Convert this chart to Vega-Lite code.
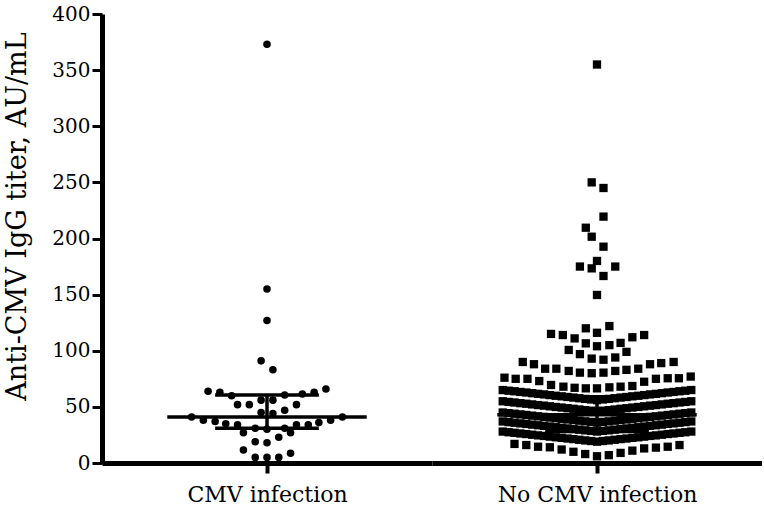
{
  "$schema": "https://vega.github.io/schema/vega-lite/v6.json",
  "background": "white",
  "padding": {"left": 2, "top": 4, "right": 0, "bottom": 0},
  "spacing": 0,
  "config": {
    "view": {"stroke": null},
    "font": "DejaVu Serif",
    "axis": {"grid": false, "domainWidth": 5, "domainColor": "black", "tickColor": "black", "labelFont": "DejaVu Serif", "labelColor": "black", "titleFont": "DejaVu Serif", "titleFontWeight": "normal", "titleColor": "black"},
    "axisX": {"tickWidth": 4, "tickSize": 10, "labels": false, "titleFontSize": 22, "titleBaseline": "middle", "titleY": 31},
    "axisY": {"tickWidth": 3, "tickSize": 10, "labelFontSize": 20, "labelPadding": 2, "titleFontSize": 27, "titleX": -85, "titleY": 202, "titleBaseline": "middle"}
  },
  "datasets": {
    "summary": [
      {"group": "CMV infection", "median": 41, "q1": 31, "q3": 60.5},
      {"group": "No CMV infection", "median": 43, "q1": 28, "q3": 59}
    ],
    "cmv": [
      {"slot": 0, "value": 373}, {"slot": 0, "value": 155}, {"slot": 0, "value": 127},
      {"slot": -0.5, "value": 91}, {"slot": 0.5, "value": 83},
      {"slot": -5, "value": 64}, {"slot": -4, "value": 63}, {"slot": -3, "value": 60}, {"slot": 1.5, "value": 60.5}, {"slot": 3, "value": 61.5}, {"slot": 4, "value": 63}, {"slot": 5, "value": 66},
      {"slot": -2.5, "value": 52}, {"slot": -1.5, "value": 52}, {"slot": -0.5, "value": 56}, {"slot": 0.5, "value": 56}, {"slot": 2.5, "value": 52},
      {"slot": -0.5, "value": 45}, {"slot": 0.5, "value": 44}, {"slot": 1.5, "value": 47},
      {"slot": -6.4, "value": 41}, {"slot": -5.4, "value": 38}, {"slot": -4.4, "value": 37}, {"slot": -3.5, "value": 35}, {"slot": -2.5, "value": 34}, {"slot": -1, "value": 31}, {"slot": 0, "value": 30}, {"slot": 1.5, "value": 31}, {"slot": 2.5, "value": 34}, {"slot": 3.5, "value": 34}, {"slot": 4.4, "value": 36}, {"slot": 5.4, "value": 38}, {"slot": 6.4, "value": 41},
      {"slot": -2, "value": 27}, {"slot": 2, "value": 27},
      {"slot": -1, "value": 19}, {"slot": 0, "value": 18}, {"slot": 1, "value": 23},
      {"slot": -2, "value": 11.6}, {"slot": 2, "value": 8.6},
      {"slot": -1, "value": 5}, {"slot": 0, "value": 5}, {"slot": 1, "value": 5}
    ],
    "nocmv": [
      {"slot": 0, "value": 355}, {"slot": -0.45, "value": 250}, {"slot": 0.55, "value": 245}, {"slot": 0.55, "value": 219.5}, {"slot": -0.95, "value": 209.6}, {"slot": -0.45, "value": 201.6}, {"slot": 0.55, "value": 192.7}, {"slot": 0, "value": 180}, {"slot": -1.45, "value": 175}, {"slot": -0.45, "value": 173.4}, {"slot": 1.55, "value": 175}, {"slot": 0.55, "value": 166.6}, {"slot": 0, "value": 149.7},
      {"slot": 1.05, "value": 122}, {"slot": -0.95, "value": 120}, {"slot": 0, "value": 116}, {"slot": -3.9, "value": 115}, {"slot": -2.9, "value": 114}, {"slot": -1.9, "value": 111}, {"slot": 3, "value": 112}, {"slot": 4, "value": 114}, {"slot": -0.95, "value": 106.6}, {"slot": 0, "value": 104}, {"slot": 1.05, "value": 105}, {"slot": 2, "value": 107}, {"slot": -2.4, "value": 100.7}, {"slot": 2.5, "value": 99}, {"slot": -1.45, "value": 97}, {"slot": -0.45, "value": 93}, {"slot": 0.55, "value": 92}, {"slot": 1.55, "value": 94},
      {"slot": -6.3, "value": 90}, {"slot": -5.35, "value": 88}, {"slot": -4.4, "value": 84}, {"slot": -3.45, "value": 84}, {"slot": -2.4, "value": 82}, {"slot": -1.45, "value": 80.5}, {"slot": -0.45, "value": 80}, {"slot": 0.55, "value": 80.5}, {"slot": 1.55, "value": 82}, {"slot": 2.5, "value": 83}, {"slot": 3.5, "value": 84}, {"slot": 4.5, "value": 88}, {"slot": 5.45, "value": 89}, {"slot": 6.5, "value": 90},
      {"slot": -7.85, "value": 76}, {"slot": -6.9, "value": 75}, {"slot": -5.9, "value": 75}, {"slot": -4.9, "value": 73}, {"slot": -3.9, "value": 69.5}, {"slot": -2.85, "value": 68}, {"slot": -1.9, "value": 67}, {"slot": -0.95, "value": 66.5}, {"slot": 0, "value": 66.5}, {"slot": 1.05, "value": 67.4}, {"slot": 2, "value": 68}, {"slot": 3, "value": 68.6}, {"slot": 4, "value": 72.4}, {"slot": 5, "value": 75}, {"slot": 6, "value": 75.5}, {"slot": 6.95, "value": 75.5}, {"slot": 7.95, "value": 77},
      {"slot": -8, "value": 65}, {"slot": -7.5, "value": 64.4}, {"slot": -7, "value": 63.9}, {"slot": -6.5, "value": 63.3}, {"slot": -6, "value": 62.8}, {"slot": -5.5, "value": 62.2}, {"slot": -5, "value": 61.6}, {"slot": -4.5, "value": 61.1}, {"slot": -4, "value": 60.5}, {"slot": -3.5, "value": 59.9}, {"slot": -3, "value": 59.4}, {"slot": -2.5, "value": 58.8}, {"slot": -2, "value": 58.3}, {"slot": -1.5, "value": 57.7}, {"slot": -1, "value": 57.1}, {"slot": -0.5, "value": 56.6}, {"slot": 0, "value": 56}, {"slot": 0.5, "value": 56.6}, {"slot": 1, "value": 57.1}, {"slot": 1.5, "value": 57.7}, {"slot": 2, "value": 58.3}, {"slot": 2.5, "value": 58.8}, {"slot": 3, "value": 59.4}, {"slot": 3.5, "value": 59.9}, {"slot": 4, "value": 60.5}, {"slot": 4.5, "value": 61.1}, {"slot": 5, "value": 61.6}, {"slot": 5.5, "value": 62.2}, {"slot": 6, "value": 62.8}, {"slot": 6.5, "value": 63.3}, {"slot": 7, "value": 63.9}, {"slot": 7.5, "value": 64.4}, {"slot": 8, "value": 65},
      {"slot": -8, "value": 55}, {"slot": -7.5, "value": 54.4}, {"slot": -7, "value": 53.9}, {"slot": -6.5, "value": 53.3}, {"slot": -6, "value": 52.8}, {"slot": -5.5, "value": 52.2}, {"slot": -5, "value": 51.6}, {"slot": -4.5, "value": 51.1}, {"slot": -4, "value": 50.5}, {"slot": -3.5, "value": 49.9}, {"slot": -3, "value": 49.4}, {"slot": -2.5, "value": 48.8}, {"slot": -2, "value": 48.3}, {"slot": -1.5, "value": 47.7}, {"slot": -1, "value": 47.1}, {"slot": -0.5, "value": 46.6}, {"slot": 0, "value": 46}, {"slot": 0.5, "value": 46.6}, {"slot": 1, "value": 47.1}, {"slot": 1.5, "value": 47.7}, {"slot": 2, "value": 48.3}, {"slot": 2.5, "value": 48.8}, {"slot": 3, "value": 49.4}, {"slot": 3.5, "value": 49.9}, {"slot": 4, "value": 50.5}, {"slot": 4.5, "value": 51.1}, {"slot": 5, "value": 51.6}, {"slot": 5.5, "value": 52.2}, {"slot": 6, "value": 52.8}, {"slot": 6.5, "value": 53.3}, {"slot": 7, "value": 53.9}, {"slot": 7.5, "value": 54.4}, {"slot": 8, "value": 55},
      {"slot": -8, "value": 45}, {"slot": -7.5, "value": 44.4}, {"slot": -7, "value": 43.9}, {"slot": -6.5, "value": 43.3}, {"slot": -6, "value": 42.8}, {"slot": -5.5, "value": 42.2}, {"slot": -5, "value": 41.6}, {"slot": -4.5, "value": 41.1}, {"slot": -4, "value": 40.5}, {"slot": -3.5, "value": 39.9}, {"slot": -3, "value": 39.4}, {"slot": -2.5, "value": 38.8}, {"slot": -2, "value": 38.3}, {"slot": -1.5, "value": 37.7}, {"slot": -1, "value": 37.1}, {"slot": -0.5, "value": 36.6}, {"slot": 0, "value": 36}, {"slot": 0.5, "value": 36.6}, {"slot": 1, "value": 37.1}, {"slot": 1.5, "value": 37.7}, {"slot": 2, "value": 38.3}, {"slot": 2.5, "value": 38.8}, {"slot": 3, "value": 39.4}, {"slot": 3.5, "value": 39.9}, {"slot": 4, "value": 40.5}, {"slot": 4.5, "value": 41.1}, {"slot": 5, "value": 41.6}, {"slot": 5.5, "value": 42.2}, {"slot": 6, "value": 42.8}, {"slot": 6.5, "value": 43.3}, {"slot": 7, "value": 43.9}, {"slot": 7.5, "value": 44.4}, {"slot": 8, "value": 45},
      {"slot": -8, "value": 37}, {"slot": -7.5, "value": 36.4}, {"slot": -7, "value": 35.9}, {"slot": -6.5, "value": 35.3}, {"slot": -6, "value": 34.8}, {"slot": -5.5, "value": 34.2}, {"slot": -5, "value": 33.6}, {"slot": -4.5, "value": 33.1}, {"slot": -4, "value": 32.5}, {"slot": -3.5, "value": 31.9}, {"slot": -3, "value": 31.4}, {"slot": -2.5, "value": 30.8}, {"slot": -2, "value": 30.3}, {"slot": -1.5, "value": 29.7}, {"slot": -1, "value": 29.1}, {"slot": -0.5, "value": 28.6}, {"slot": 0, "value": 28}, {"slot": 0.5, "value": 28.6}, {"slot": 1, "value": 29.1}, {"slot": 1.5, "value": 29.7}, {"slot": 2, "value": 30.3}, {"slot": 2.5, "value": 30.8}, {"slot": 3, "value": 31.4}, {"slot": 3.5, "value": 31.9}, {"slot": 4, "value": 32.5}, {"slot": 4.5, "value": 33.1}, {"slot": 5, "value": 33.6}, {"slot": 5.5, "value": 34.2}, {"slot": 6, "value": 34.8}, {"slot": 6.5, "value": 35.3}, {"slot": 7, "value": 35.9}, {"slot": 7.5, "value": 36.4}, {"slot": 8, "value": 37},
      {"slot": -8, "value": 28}, {"slot": -7.5, "value": 27.4}, {"slot": -7, "value": 26.9}, {"slot": -6.5, "value": 26.3}, {"slot": -6, "value": 25.8}, {"slot": -5.5, "value": 25.2}, {"slot": -5, "value": 24.6}, {"slot": -4.5, "value": 24.1}, {"slot": -4, "value": 23.5}, {"slot": -3.5, "value": 22.9}, {"slot": -3, "value": 22.4}, {"slot": -2.5, "value": 21.8}, {"slot": -2, "value": 21.3}, {"slot": -1.5, "value": 20.7}, {"slot": -1, "value": 20.1}, {"slot": -0.5, "value": 19.6}, {"slot": 0, "value": 19}, {"slot": 0.5, "value": 19.6}, {"slot": 1, "value": 20.1}, {"slot": 1.5, "value": 20.7}, {"slot": 2, "value": 21.3}, {"slot": 2.5, "value": 21.8}, {"slot": 3, "value": 22.4}, {"slot": 3.5, "value": 22.9}, {"slot": 4, "value": 23.5}, {"slot": 4.5, "value": 24.1}, {"slot": 5, "value": 24.6}, {"slot": 5.5, "value": 25.2}, {"slot": 6, "value": 25.8}, {"slot": 6.5, "value": 26.3}, {"slot": 7, "value": 26.9}, {"slot": 7.5, "value": 27.4}, {"slot": 8, "value": 28},
      {"slot": -7, "value": 17}, {"slot": -6, "value": 16}, {"slot": -5, "value": 14.5}, {"slot": -4, "value": 14}, {"slot": -3, "value": 12}, {"slot": -2, "value": 10}, {"slot": -1, "value": 8}, {"slot": 0, "value": 6}, {"slot": 1, "value": 7}, {"slot": 2, "value": 9}, {"slot": 3, "value": 11}, {"slot": 4, "value": 13}, {"slot": 5, "value": 13.7}, {"slot": 6, "value": 14.5}, {"slot": 7, "value": 16}
    ]
  },
  "hconcat": [
    {
      "width": 330,
      "height": 449,
      "layer": [
        {
          "data": {"name": "summary"},
          "transform": [{"filter": "datum.group === 'CMV infection'"}],
          "mark": {"type": "rule", "color": "black", "strokeWidth": 3.5},
          "encoding": {
            "x": {"datum": -8.46, "type": "quantitative", "scale": {"domain": [-12.69, 12.69]}, "axis": {"values": [0], "title": "CMV infection"}},
            "x2": {"datum": 8.46},
            "y": {"field": "median", "type": "quantitative", "scale": {"domain": [0, 400]}, "axis": {"values": [0, 50, 100, 150, 200, 250, 300, 350, 400], "title": "Anti-CMV IgG titer, AU/mL"}}
          }
        },
        {
          "data": {"name": "summary"},
          "transform": [{"filter": "datum.group === 'CMV infection'"}],
          "mark": {"type": "rule", "color": "black", "strokeWidth": 3.5},
          "encoding": {
            "x": {"datum": -4.4, "type": "quantitative", "axis": {"values": [0], "title": "CMV infection"}},
            "x2": {"datum": 4.4},
            "y": {"field": "q1", "type": "quantitative", "axis": {"values": [0, 50, 100, 150, 200, 250, 300, 350, 400], "title": "Anti-CMV IgG titer, AU/mL"}}
          }
        },
        {
          "data": {"name": "summary"},
          "transform": [{"filter": "datum.group === 'CMV infection'"}],
          "mark": {"type": "rule", "color": "black", "strokeWidth": 3.5},
          "encoding": {
            "x": {"datum": -4.4, "type": "quantitative", "axis": {"values": [0], "title": "CMV infection"}},
            "x2": {"datum": 4.4},
            "y": {"field": "q3", "type": "quantitative", "axis": {"values": [0, 50, 100, 150, 200, 250, 300, 350, 400], "title": "Anti-CMV IgG titer, AU/mL"}}
          }
        },
        {
          "data": {"name": "summary"},
          "transform": [{"filter": "datum.group === 'CMV infection'"}],
          "mark": {"type": "rule", "color": "black", "strokeWidth": 3.5},
          "encoding": {
            "x": {"datum": 0, "type": "quantitative", "axis": {"values": [0], "title": "CMV infection"}},
            "y": {"field": "q1", "type": "quantitative", "axis": {"values": [0, 50, 100, 150, 200, 250, 300, 350, 400], "title": "Anti-CMV IgG titer, AU/mL"}},
            "y2": {"field": "q3"}
          }
        },
        {
          "data": {"name": "cmv"},
          "mark": {"type": "point", "shape": "circle", "filled": true, "size": 57, "color": "black", "opacity": 1},
          "encoding": {
            "x": {"field": "slot", "type": "quantitative", "axis": {"values": [0], "title": "CMV infection"}},
            "y": {"field": "value", "type": "quantitative", "axis": {"values": [0, 50, 100, 150, 200, 250, 300, 350, 400], "title": "Anti-CMV IgG titer, AU/mL"}}
          }
        }
      ]
    },
    {
      "width": 330,
      "height": 449,
      "layer": [
        {
          "data": {"name": "summary"},
          "transform": [{"filter": "datum.group === 'No CMV infection'"}],
          "mark": {"type": "rule", "color": "black", "strokeWidth": 3.5},
          "encoding": {
            "x": {"datum": -8.46, "type": "quantitative", "scale": {"domain": [-12.69, 12.69]}, "axis": {"values": [0], "title": "No CMV infection"}},
            "x2": {"datum": 8.46},
            "y": {"field": "median", "type": "quantitative", "scale": {"domain": [0, 400]}, "axis": null}
          }
        },
        {
          "data": {"name": "summary"},
          "transform": [{"filter": "datum.group === 'No CMV infection'"}],
          "mark": {"type": "rule", "color": "black", "strokeWidth": 3.5},
          "encoding": {
            "x": {"datum": -4.4, "type": "quantitative", "axis": {"values": [0], "title": "No CMV infection"}},
            "x2": {"datum": 4.4},
            "y": {"field": "q1", "type": "quantitative", "axis": null}
          }
        },
        {
          "data": {"name": "summary"},
          "transform": [{"filter": "datum.group === 'No CMV infection'"}],
          "mark": {"type": "rule", "color": "black", "strokeWidth": 3.5},
          "encoding": {
            "x": {"datum": -4.4, "type": "quantitative", "axis": {"values": [0], "title": "No CMV infection"}},
            "x2": {"datum": 4.4},
            "y": {"field": "q3", "type": "quantitative", "axis": null}
          }
        },
        {
          "data": {"name": "summary"},
          "transform": [{"filter": "datum.group === 'No CMV infection'"}],
          "mark": {"type": "rule", "color": "black", "strokeWidth": 3.5},
          "encoding": {
            "x": {"datum": 0, "type": "quantitative", "axis": {"values": [0], "title": "No CMV infection"}},
            "y": {"field": "q1", "type": "quantitative", "axis": null},
            "y2": {"field": "q3"}
          }
        },
        {
          "data": {"name": "nocmv"},
          "mark": {"type": "point", "shape": "square", "filled": true, "size": 69, "color": "black", "opacity": 1},
          "encoding": {
            "x": {"field": "slot", "type": "quantitative", "axis": {"values": [0], "title": "No CMV infection"}},
            "y": {"field": "value", "type": "quantitative", "axis": null}
          }
        }
      ]
    }
  ]
}
